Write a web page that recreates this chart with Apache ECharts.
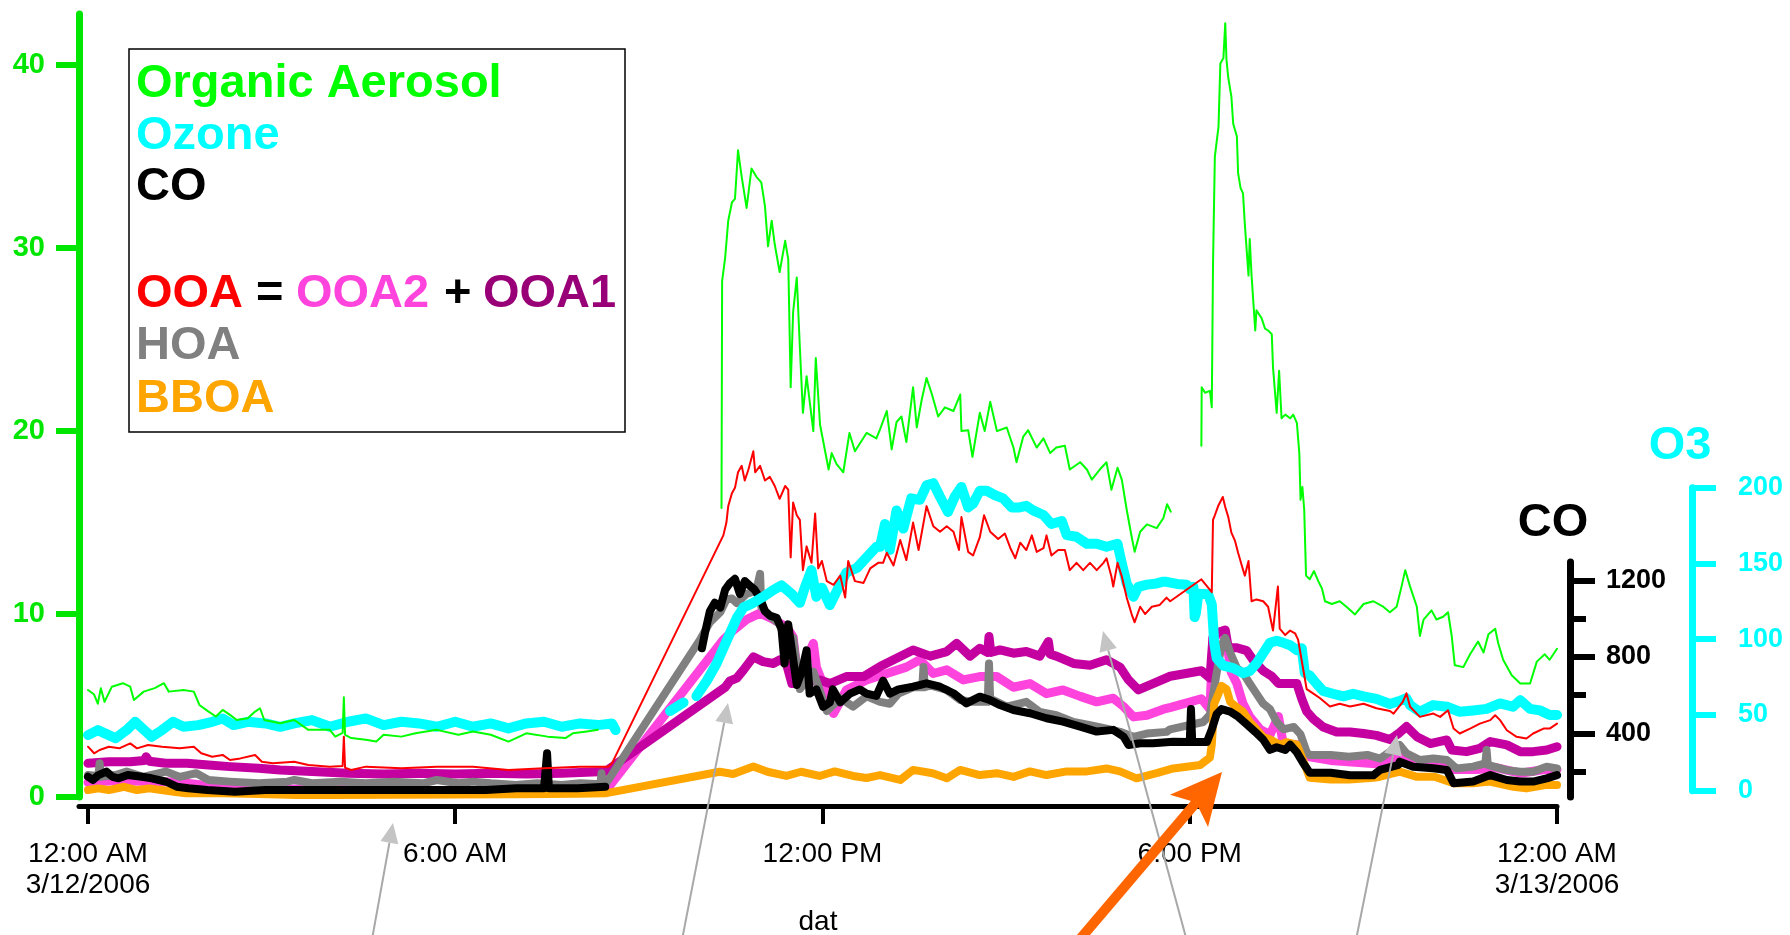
<!DOCTYPE html>
<html>
<head>
<meta charset="utf-8">
<script src="https://cdn.jsdelivr.net/npm/echarts@6/dist/echarts.min.js"></script>
<style>
html,body{margin:0;padding:0;background:#fff;}
#chart{width:1790px;height:935px;}
</style>
</head>
<body>
<div id="chart"></div>
<script>
// ---------------- DATA (hours since 12:00 AM 3/12/2006, value) ----------------
const xTickHours = [0, 6, 12, 18, 24];
const xTickLabels = ['12:00 AM\n3/12/2006', '6:00 AM', '12:00 PM', '6:00 PM', '12:00 AM\n3/13/2006'];
const leftTicks = [0, 10, 20, 30, 40];
const o3Ticks = [0, 50, 100, 150, 200];
const coMajorTicks = [400, 800, 1200];
const coMinorTicks = [200, 600, 1000];

// Organic Aerosol (left axis)
const organicAerosol = [[0.00,5.85],[0.10,5.6],[0.16,5.1],[0.21,5.95],[0.27,5.2],[0.39,6.03],[0.57,6.22],[0.69,6.03],[0.75,5.3],[0.91,5.76],[1.09,5.95],[1.24,6.22],[1.32,5.76],[1.56,5.85],[1.73,5.76],[1.82,5.03],[1.97,4.67],[2.09,4.4],[2.20,4.76],[2.32,4.49],[2.43,4.21],[2.61,4.3],[2.73,4.67],[2.81,4.85],[2.88,4.21],[3.14,4.03],[3.37,4.21],[3.60,3.67],[3.95,3.67],[4.04,3.3],[4.16,3.5],[4.18,5.45],[4.20,3.4],[4.30,3.22],[4.54,3.13],[4.71,3.03],[4.83,3.4],[5.12,3.3],[5.35,3.48],[5.70,3.67],[6.05,3.4],[6.29,3.58],[6.58,3.4],[6.87,3.03],[7.16,3.48],[7.51,3.3],[7.80,3.22],[7.92,3.48],[8.15,3.58],[8.33,3.67],[8.34,null],
[10.35,15.8],[10.36,28.2],[10.41,29.5],[10.46,31.5],[10.52,32.5],[10.57,32.7],[10.62,35.35],[10.68,33.9],[10.76,32.2],[10.84,34.35],[10.92,33.9],[11.00,33.6],[11.06,32.3],[11.11,30.1],[11.17,31.5],[11.22,30.2],[11.30,28.7],[11.39,30.4],[11.44,29.4],[11.48,22.4],[11.52,26.5],[11.58,28.4],[11.63,24.6],[11.68,21.0],[11.74,23.0],[11.85,20.0],[11.89,24.0],[11.96,20.35],[12.10,17.9],[12.15,18.8],[12.23,18.2],[12.34,17.75],[12.44,19.9],[12.53,18.9],[12.72,19.9],[12.88,19.6],[12.94,20.1],[13.05,21.1],[13.13,19.0],[13.21,20.5],[13.29,20.8],[13.37,19.4],[13.48,22.4],[13.54,20.2],[13.62,21.7],[13.70,22.9],[13.78,22.1],[13.89,20.8],[14.00,21.3],[14.14,21.1],[14.25,22.0],[14.27,20.0],[14.38,20.05],[14.45,18.6],[14.57,21.0],[14.65,20.0],[14.74,21.6],[14.85,20.0],[15.01,20.2],[15.12,19.1],[15.17,18.3],[15.28,19.7],[15.36,20.05],[15.50,19.1],[15.61,19.6],[15.72,18.8],[15.82,19.1],[15.96,19.2],[16.04,17.9],[16.21,18.3],[16.32,17.9],[16.40,17.35],[16.53,17.9],[16.64,18.3],[16.72,16.8],[16.82,18.0],[16.89,17.35],[16.97,15.7],[17.05,14.24],[17.10,13.4],[17.19,14.5],[17.30,14.9],[17.46,14.7],[17.57,15.25],[17.63,16.0],[17.69,15.6],[17.70,null],
[18.19,19.2],[18.195,22.4],[18.25,22.1],[18.33,22.2],[18.36,21.3],[18.38,29.1],[18.41,35.0],[18.47,36.65],[18.50,40.1],[18.55,40.4],[18.58,42.3],[18.60,40.3],[18.63,39.3],[18.68,38.3],[18.71,36.8],[18.77,36.1],[18.79,34.1],[18.83,33.3],[18.87,33.0],[18.90,31.3],[18.96,28.5],[18.98,30.5],[19.01,28.5],[19.04,27.0],[19.07,25.5],[19.09,26.6],[19.17,26.2],[19.23,25.6],[19.28,25.5],[19.34,25.3],[19.36,23.5],[19.42,21.0],[19.46,23.3],[19.50,20.7],[19.56,20.9],[19.64,20.7],[19.69,20.9],[19.75,20.45],[19.79,18.8],[19.81,16.25],[19.84,16.95],[19.87,15.7],[19.90,12.1],[19.96,11.9],[20.03,12.35],[20.10,11.8],[20.16,11.4],[20.21,10.7],[20.32,10.55],[20.45,10.7],[20.56,10.4],[20.70,9.98],[20.84,10.55],[21.00,10.7],[21.16,10.4],[21.27,10.1],[21.38,10.4],[21.46,11.5],[21.52,12.4],[21.60,11.5],[21.71,10.4],[21.76,8.8],[21.82,9.7],[21.95,10.2],[22.03,9.7],[22.14,9.85],[22.22,10.1],[22.28,8.8],[22.33,7.2],[22.47,7.1],[22.58,7.8],[22.71,8.5],[22.80,7.9],[22.88,8.9],[22.99,9.2],[23.04,8.4],[23.12,7.5],[23.26,6.65],[23.40,6.2],[23.56,6.2],[23.67,7.4],[23.80,7.8],[23.88,7.5],[24.00,8.1]];

// Ozone (O3 axis, ppb)
const ozone = [[0.00,36.7],[0.16,40.0],[0.34,36.7],[0.45,34.6],[0.63,40.0],[0.77,45.5],[0.92,40.0],[1.04,35.6],[1.21,40.0],[1.39,45.5],[1.56,42.2],[1.80,43.3],[2.03,45.5],[2.20,47.7],[2.38,43.3],[2.61,45.5],[2.90,44.4],[3.14,42.2],[3.37,44.4],[3.66,46.6],[3.95,42.2],[4.25,45.5],[4.54,47.7],[4.83,43.3],[5.12,45.5],[5.41,44.4],[5.70,42.2],[6.00,45.5],[6.29,42.2],[6.58,44.4],[6.87,41.1],[7.16,44.4],[7.45,45.5],[7.74,42.2],[8.04,44.4],[8.33,43.3],[8.56,44.4],[8.62,40.0],[8.63,null],
[9.51,52.6],[9.73,58.2],[9.75,null],[9.94,62.5],[10.11,72.6],[10.27,84.0],[10.41,96.8],[10.49,104],[10.60,114],[10.71,121],[10.87,124],[11.03,128],[11.20,132.6],[11.33,135.5],[11.50,129.8],[11.63,124],[11.71,134],[11.82,145.6],[11.90,128],[11.99,134],[12.12,122.5],[12.26,134],[12.39,144],[12.56,147],[12.72,154],[12.88,161],[12.94,161],[13.02,176],[13.10,159],[13.21,185],[13.32,173],[13.45,193],[13.59,192],[13.70,201.6],[13.81,203],[13.92,194],[14.05,184],[14.16,194],[14.27,200.5],[14.38,187],[14.46,189.5],[14.57,198],[14.68,198],[14.82,195],[14.95,193],[15.09,187],[15.22,187],[15.33,188],[15.44,185],[15.61,182],[15.74,176],[15.91,178],[15.99,168.7],[16.15,167.6],[16.32,163],[16.48,163],[16.64,161],[16.82,163],[16.89,150],[16.97,136.8],[17.08,128],[17.16,134.6],[17.30,136],[17.46,136.8],[17.57,138],[17.62,137.9],[17.79,136.5],[17.95,136],[18.00,133],[18.06,134.6],[18.08,114.6],[18.10,117],[18.14,130],[18.30,129.7],[18.36,123],[18.40,97.6],[18.44,87.5],[18.55,82.5],[18.71,80.9],[18.87,77.6],[18.98,79],[19.09,84],[19.20,90.8],[19.31,97.6],[19.42,99],[19.53,97.6],[19.64,96],[19.75,92.8],[19.83,94],[19.88,77.6],[19.96,76],[20.07,70.7],[20.18,65.8],[20.34,64],[20.51,62.3],[20.67,64],[20.84,62.3],[21.05,60.6],[21.27,57.2],[21.41,59],[21.54,61],[21.60,56.5],[21.76,52.1],[21.98,56.5],[22.20,55.4],[22.41,52.1],[22.63,53],[22.85,54],[23.07,57.6],[23.28,55.4],[23.40,59.8],[23.56,54],[23.72,53],[23.88,50],[24.00,50]];

// CO (CO axis, ppb)
const carbonMonoxide = [[0.00,172],[0.08,155],[0.17,181],[0.30,199],[0.40,172],[0.50,164],[0.65,181],[0.88,172],[1.04,164],[1.28,146],[1.45,120],[1.64,112],[1.95,103],[2.40,94],[2.90,103],[3.50,103],[4.10,103],[4.70,103],[5.30,103],[5.90,103],[6.50,103],[7.00,112],[7.45,112],[7.50,295],[7.53,112],[8.00,112],[8.45,120],[8.46,null],
[10.03,846],[10.08,926],[10.16,1040],[10.24,1085],[10.33,1059],[10.41,1153],[10.49,1188],[10.57,1210],[10.65,1130],[10.73,1198],[10.81,1175],[10.89,1153],[10.98,1108],[11.06,1040],[11.14,1017],[11.25,1006],[11.33,948],[11.38,766],[11.44,971],[11.50,835],[11.58,653],[11.66,722],[11.74,835],[11.79,608],[11.90,630],[12.01,539],[12.12,562],[12.17,630],[12.29,562],[12.45,608],[12.61,630],[12.72,608],[12.88,596],[12.99,676],[13.10,608],[13.24,630],[13.48,644],[13.70,662],[13.92,644],[14.14,610],[14.35,557],[14.57,592],[14.73,575],[14.90,548],[15.12,522],[15.39,505],[15.66,479],[15.93,461],[16.21,435],[16.48,409],[16.75,418],[16.92,382],[17.00,339],[17.19,348],[17.40,348],[17.73,356],[18.00,354],[18.02,527],[18.04,354],[18.28,354],[18.36,420],[18.44,501],[18.52,527],[18.66,514],[18.79,487],[18.93,447],[19.07,407],[19.20,367],[19.31,313],[19.42,327],[19.56,313],[19.64,340],[19.75,300],[19.85,246],[19.96,193],[20.30,193],[20.62,180],[21.00,180],[21.11,208],[21.41,234],[21.43,251],[21.65,225],[21.98,217],[22.20,208],[22.31,138],[22.63,147],[22.91,181],[23.18,155],[23.40,147],[23.61,147],[23.83,164],[24.00,181]];

// OOA (left axis)
const ooa = [[0.00,2.75],[0.10,2.39],[0.19,2.57],[0.34,2.75],[0.51,2.66],[0.69,2.93],[0.80,2.66],[0.98,2.84],[1.21,2.75],[1.50,2.66],[1.73,2.75],[1.85,2.39],[2.03,2.2],[2.20,2.3],[2.32,2.02],[2.49,2.11],[2.73,2.3],[2.84,1.93],[3.02,1.84],[3.37,1.93],[3.60,1.75],[3.95,1.66],[4.16,1.7],[4.18,3.3],[4.20,1.6],[4.30,1.48],[4.54,1.66],[5.12,1.57],[5.70,1.66],[6.29,1.66],[6.87,1.48],[7.45,1.57],[8.04,1.66],[8.50,1.66],[8.56,1.84],
[10.38,14.3],[10.43,15.0],[10.46,15.9],[10.52,16.6],[10.57,16.9],[10.62,17.75],[10.68,18.1],[10.73,17.3],[10.79,17.9],[10.87,18.9],[10.90,17.75],[10.98,18.1],[11.06,17.3],[11.14,17.5],[11.22,17.0],[11.30,16.3],[11.39,17.0],[11.44,16.8],[11.48,13.1],[11.52,16.1],[11.58,15.4],[11.63,15.15],[11.68,12.4],[11.74,13.7],[11.82,12.8],[11.88,15.5],[11.93,12.5],[11.99,12.9],[12.07,11.8],[12.18,11.6],[12.29,12.1],[12.37,10.9],[12.42,12.9],[12.53,11.8],[12.67,11.7],[12.78,12.5],[12.91,12.8],[12.99,12.8],[13.05,13.35],[13.16,12.65],[13.27,14.05],[13.37,12.95],[13.48,15.0],[13.57,13.5],[13.70,15.9],[13.81,14.8],[13.92,14.5],[14.03,14.8],[14.14,14.5],[14.23,13.5],[14.27,15.3],[14.38,13.4],[14.46,13.2],[14.57,14.2],[14.64,15.4],[14.74,14.5],[14.87,14.1],[14.98,14.4],[15.07,13.6],[15.15,13.05],[15.23,13.9],[15.33,13.5],[15.42,14.3],[15.50,13.4],[15.61,13.6],[15.66,14.3],[15.74,13.2],[15.85,13.5],[15.96,13.5],[16.04,12.4],[16.15,12.8],[16.26,12.4],[16.37,12.8],[16.48,12.4],[16.59,12.8],[16.64,13.05],[16.72,12.05],[16.75,11.5],[16.82,12.8],[16.89,12.05],[16.97,10.9],[17.05,10.0],[17.10,9.55],[17.19,10.4],[17.27,10.0],[17.38,10.4],[17.51,10.5],[17.62,10.9],[17.68,10.7],
[18.19,11.9],[18.36,11.2],[18.38,15.15],[18.41,15.4],[18.47,15.95],[18.54,16.4],[18.58,15.85],[18.63,15.3],[18.68,14.45],[18.74,14.0],[18.79,13.35],[18.85,12.65],[18.90,12.1],[18.96,12.9],[19.01,10.7],[19.09,10.8],[19.20,10.7],[19.28,10.4],[19.36,9.1],[19.44,11.5],[19.47,9.2],[19.56,8.85],[19.64,9.1],[19.72,8.95],[19.77,8.6],[19.85,7.05],[19.91,5.9],[20.02,5.65],[20.13,5.4],[20.29,4.95],[20.45,5.1],[20.62,4.95],[20.84,5.1],[21.05,4.85],[21.27,4.7],[21.33,4.56],[21.48,5.2],[21.54,5.67],[21.60,4.93],[21.76,4.38],[21.98,4.56],[22.09,4.38],[22.22,4.74],[22.31,3.74],[22.41,3.47],[22.58,3.74],[22.74,4.01],[22.91,4.2],[22.99,4.47],[23.07,4.2],[23.18,3.65],[23.34,3.29],[23.50,3.2],[23.61,3.47],[23.78,3.74],[23.88,3.74],[24.00,4.01]];

// OOA2 (left axis)
const ooa2 = [[0.00,0.8],[0.5,0.9],[1.0,0.85],[1.5,0.8],[2.0,0.6],[2.5,0.55],[3.0,0.4],[3.5,0.45],[4.0,0.35],[4.18,0.75],[4.3,0.35],[5.0,0.3],[5.5,0.35],[6.0,0.3],[6.5,0.3],[7.0,0.25],[7.5,0.3],[8.0,0.3],[8.45,0.3],[10.38,8.6],[10.54,9.1],[10.76,9.7],[10.98,10.05],[11.2,9.7],[11.41,9.3],[11.52,8.75],[11.6,6.4],[11.85,8.4],[11.9,7.1],[12.07,5.65],[12.18,4.56],[12.39,5.85],[12.72,6.4],[13.05,6.75],[13.37,7.1],[13.59,7.5],[13.81,6.75],[14.03,6.95],[14.3,6.4],[14.57,6.58],[14.85,6.58],[15.12,6.0],[15.39,6.2],[15.66,5.65],[15.93,5.85],[16.21,5.5],[16.48,5.2],[16.75,5.4],[16.92,4.94],[17.08,4.38],[17.3,4.47],[17.57,4.8],[17.69,4.9],[18.19,5.37],[18.33,4.8],[18.38,8.7],[18.5,9.0],[18.6,8.5],[18.68,6.8],[18.77,6.2],[18.87,5.1],[18.98,4.4],[19.15,3.7],[19.31,3.4],[19.45,4.4],[19.53,2.86],[19.75,2.86],[19.85,2.3],[19.96,2.2],[20.3,2.0],[20.7,1.9],[21.1,1.8],[21.43,2.3],[21.6,1.9],[22.0,1.8],[22.3,1.5],[22.7,1.5],[23.0,1.6],[23.4,1.3],[23.8,1.5],[24.0,1.5]];

// OOA1 (left axis)
const ooa1 = [[0.00,1.84],[0.34,1.93],[0.69,1.93],[0.92,2.0],[0.95,2.2],[1.0,1.95],[1.27,1.84],[1.62,1.84],[1.97,1.75],[2.32,1.66],[2.79,1.57],[3.14,1.48],[3.66,1.39],[4.25,1.3],[4.83,1.26],[5.41,1.3],[6.0,1.26],[6.58,1.3],[7.16,1.26],[7.74,1.3],[8.45,1.39],[10.41,6.0],[10.49,6.35],[10.6,6.5],[10.71,6.95],[10.87,7.66],[11.03,7.4],[11.2,7.3],[11.3,7.5],[11.41,7.3],[11.5,6.2],[11.96,6.4],[12.12,6.2],[12.39,6.58],[12.67,6.58],[12.94,7.13],[13.21,7.59],[13.48,8.04],[13.76,7.7],[14.03,7.95],[14.19,8.4],[14.41,7.7],[14.57,8.13],[14.7,7.9],[14.72,8.77],[14.75,7.9],[14.9,8.04],[15.12,7.86],[15.33,7.95],[15.55,7.7],[15.69,8.5],[15.72,7.8],[15.82,7.7],[16.1,7.3],[16.37,7.2],[16.64,7.5],[16.86,7.1],[17.0,6.4],[17.16,5.85],[17.4,6.2],[17.68,6.6],[18.19,6.9],[18.33,6.5],[18.38,8.75],[18.47,9.0],[18.58,9.13],[18.63,8.16],[18.77,8.16],[18.93,8.0],[19.04,7.47],[19.2,6.9],[19.34,6.6],[19.45,6.2],[19.75,6.2],[19.83,5.37],[19.91,4.68],[20.02,4.26],[20.18,3.83],[20.4,3.55],[20.62,3.55],[20.84,3.47],[21.05,3.37],[21.27,3.14],[21.41,3.47],[21.54,3.85],[21.71,3.3],[21.93,2.92],[22.2,3.12],[22.28,2.57],[22.52,2.48],[22.74,2.66],[22.91,3.03],[23.18,2.85],[23.4,2.48],[23.61,2.48],[23.83,2.57],[24.0,2.75]];

// HOA (left axis)
const hoa = [[0.00,1.2],[0.17,1.15],[0.19,1.84],[0.21,1.1],[0.45,1.2],[0.63,1.39],[0.9,1.1],[1.27,1.39],[1.5,1.1],[1.77,1.3],[1.97,0.93],[2.32,0.84],[2.79,0.75],[3.26,0.84],[3.37,0.93],[3.66,0.75],[4.13,0.84],[4.54,0.75],[5.0,0.84],[5.47,0.75],[5.7,0.93],[6.05,0.75],[6.29,0.84],[6.58,0.75],[6.99,0.66],[7.34,0.75],[7.74,0.66],[8.04,0.75],[8.37,0.7],[8.39,1.3],[8.41,0.66],[8.45,0.66],[10.0,8.6],[10.16,9.55],[10.33,10.1],[10.43,10.8],[10.52,10.85],[10.6,10.6],[10.76,11.1],[10.92,11.3],[10.98,12.2],[11.0,10.4],[11.14,9.9],[11.3,9.45],[11.47,7.8],[11.52,8.7],[11.63,5.9],[11.85,6.85],[12.07,4.7],[12.29,5.4],[12.5,4.94],[12.72,5.5],[12.94,5.2],[13.1,5.1],[13.24,5.65],[13.48,6.0],[13.63,6.0],[13.65,7.1],[13.67,6.0],[13.76,6.1],[14.03,5.85],[14.25,5.3],[14.46,5.2],[14.7,5.2],[14.72,7.3],[14.74,5.25],[14.79,5.3],[15.01,4.94],[15.33,5.2],[15.55,4.65],[15.82,4.47],[16.1,4.1],[16.37,3.93],[16.64,3.74],[16.86,3.56],[17.08,3.29],[17.3,3.47],[17.62,3.56],[17.68,3.7],[18.22,4.1],[18.33,4.5],[18.44,6.8],[18.52,8.3],[18.58,8.7],[18.66,7.9],[18.77,7.05],[18.87,6.8],[18.98,6.2],[19.09,5.65],[19.2,5.1],[19.31,4.8],[19.42,4.1],[19.53,3.7],[19.7,3.83],[19.81,3.42],[19.91,2.45],[19.96,2.3],[20.3,2.3],[20.6,2.2],[20.9,2.3],[21.11,2.1],[21.43,2.84],[21.54,2.39],[21.76,2.02],[21.98,2.1],[22.2,2.02],[22.36,1.56],[22.63,1.66],[22.83,1.84],[22.85,2.57],[22.87,1.75],[23.18,1.47],[23.4,1.38],[23.61,1.38],[23.83,1.66],[24.0,1.56]];

// BBOA (left axis)
const bboa = [[0.0,0.38],[0.17,0.47],[0.34,0.38],[0.59,0.56],[0.8,0.38],[1.0,0.47],[1.2,0.38],[1.4,0.29],[1.6,0.2],[2.2,0.2],[2.8,0.16],[3.4,0.11],[4.0,0.11],[5.0,0.12],[6.0,0.13],[7.0,0.15],[8.0,0.18],[8.45,0.2],[10.32,1.38],[10.54,1.26],[10.87,1.67],[11.1,1.38],[11.41,1.15],[11.65,1.38],[11.95,1.15],[12.2,1.4],[12.5,1.15],[12.72,1.04],[12.94,1.2],[13.27,0.93],[13.48,1.48],[13.8,1.3],[14.03,1.02],[14.25,1.48],[14.57,1.2],[14.85,1.3],[15.12,1.1],[15.39,1.4],[15.66,1.2],[15.99,1.4],[16.32,1.4],[16.64,1.56],[16.86,1.4],[17.13,1.02],[17.46,1.3],[17.73,1.56],[18.17,1.75],[18.33,2.16],[18.36,2.86],[18.4,5.1],[18.47,5.65],[18.52,6.07],[18.6,5.9],[18.66,5.2],[18.77,4.9],[18.87,4.67],[18.98,4.1],[19.09,3.7],[19.2,3.28],[19.31,3.15],[19.47,2.86],[19.58,3.0],[19.75,2.86],[19.85,2.02],[19.96,1.05],[20.3,0.95],[20.6,0.95],[21.0,1.05],[21.11,1.11],[21.43,1.39],[21.7,1.11],[22.0,1.11],[22.31,0.75],[22.63,0.75],[22.9,0.84],[23.29,0.56],[23.5,0.47],[23.83,0.66],[24.0,0.66]];

// ---------------- STYLE ----------------
const FONT = 'Liberation Sans, Arial, Helvetica, sans-serif';
const C = {
  oa: '#00ff00', oaAxis: '#00e600', o3: '#00ffff', co: '#000000', ooa: '#ff0000',
  ooa2: '#ff44dd', ooa1: '#c400a0', ooa1Text: '#990077', hoa: '#808080', bboa: '#ffa500'
};
const X_MIN = -0.147, X_MAX = 24;

const chart = echarts.init(document.getElementById('chart'), null, {renderer: 'canvas'});

function line(name, data, color, width, xi, yi) {
  return {
    name, type: 'line', data, xAxisIndex: xi, yAxisIndex: yi,
    showSymbol: false, symbol: 'none', clip: false, connectNulls: false, silent: true,
    lineStyle: {color, width, join: 'round', cap: 'round'}, itemStyle: {color}
  };
}

function arrow(tail, tip, o) {
  const dx = tip[0] - tail[0], dy = tip[1] - tail[1];
  const len = Math.hypot(dx, dy);
  const ux = dx / len, uy = dy / len, nx = -uy, ny = ux;
  const bc = [tip[0] - ux * o.headLen, tip[1] - uy * o.headLen];
  const b1 = [bc[0] + nx * o.headHalf, bc[1] + ny * o.headHalf];
  const b2 = [bc[0] - nx * o.headHalf, bc[1] - ny * o.headHalf];
  const notch = [tip[0] - ux * o.notch, tip[1] - uy * o.notch];
  return [
    {type: 'line', z: 100, shape: {x1: tail[0], y1: tail[1], x2: notch[0], y2: notch[1]},
     style: {stroke: o.color, lineWidth: o.width}},
    {type: 'polygon', z: 100, shape: {points: [tip, b1, notch, b2]},
     style: {fill: o.headColor || o.color}}
  ];
}

const grayArrow = {color: '#a8a8a8', headColor: '#c4c4c4', width: 2, headLen: 20, headHalf: 9, notch: 20};
const orangeArrow = {color: '#ff6600', width: 10, headLen: 51, headHalf: 25, notch: 40};

const legendX = 136;
function legendText(text, x, baseline, color) {
  return {type: 'text', z: 101, x: x, y: baseline - 16,
    style: {text, fill: color, font: 'bold 47px ' + FONT, textAlign: 'left', textVerticalAlign: 'middle', verticalAlign: 'middle'}};
}

const graphics = [
  {type: 'rect', z: 99, shape: {x: 129, y: 49, width: 496, height: 383},
   style: {fill: '#ffffff', stroke: '#000000', lineWidth: 1.5}},
  legendText('Organic Aerosol', legendX, 100, C.oa),
  legendText('Ozone', legendX, 152, C.o3),
  legendText('CO', legendX, 203, '#000'),
  legendText('OOA', legendX, 310, C.ooa),
  legendText('=', 256, 310, '#000'),
  legendText('OOA2', 296, 310, C.ooa2),
  legendText('+', 444, 310, '#000'),
  legendText('OOA1', 483, 310, C.ooa1Text),
  legendText('HOA', legendX, 362, C.hoa),
  legendText('BBOA', legendX, 415, C.bboa),
  ...arrow([371, 945], [393, 823], grayArrow),
  ...arrow([681, 945], [728, 703], grayArrow),
  ...arrow([1188, 945], [1103, 631], grayArrow),
  ...arrow([1355, 945], [1397, 735], grayArrow),
  ...arrow([1075, 945], [1222, 772], orangeArrow)
];

const gridBase = {left: 79, right: 233, containLabel: false, outerBoundsMode: 'none'};
const hiddenX = (gi) => ({gridIndex: gi, type: 'value', min: X_MIN, max: X_MAX, show: false, splitLine: {show: false}});

const option = {
  animation: false,
  backgroundColor: '#ffffff',
  textStyle: {fontFamily: FONT},
  grid: [
    {...gridBase, top: 14, bottom: 138},
    {...gridBase, top: 487.7, bottom: 144.3},
    {...gridBase, top: 562, bottom: 138}
  ],
  xAxis: [
    {gridIndex: 0, type: 'value', min: X_MIN, max: X_MAX, offset: 9, position: 'bottom',
     axisLine: {show: true, onZero: false, lineStyle: {color: '#000', width: 5}},
     axisTick: {show: true, customValues: xTickHours, length: 18, lineStyle: {color: '#000', width: 4}},
     axisLabel: {customValues: xTickHours, color: '#000', fontSize: 28, lineHeight: 31, margin: 33, fontFamily: FONT,
       formatter: (v) => { const i = xTickHours.indexOf(Math.round(v)); return i >= 0 ? xTickLabels[i] : ''; }},
     splitLine: {show: false},
     name: 'dat', nameLocation: 'middle', nameGap: 102,
     nameTextStyle: {color: '#000', fontSize: 28, lineHeight: 28, fontFamily: FONT}},
    hiddenX(1), hiddenX(2)
  ],
  yAxis: [
    {gridIndex: 0, type: 'value', min: 0, max: 42.8, position: 'left',
     axisLine: {show: true, onZero: false, lineStyle: {color: C.oaAxis, width: 7}},
     axisTick: {show: true, customValues: leftTicks, length: 23, lineStyle: {color: C.oaAxis, width: 6}},
     axisLabel: {customValues: leftTicks, color: C.oaAxis, fontWeight: 'bold', fontSize: 29, margin: 34, fontFamily: FONT},
     splitLine: {show: false}},
    {gridIndex: 1, type: 'value', min: 0, max: 200, position: 'right', offset: 135,
     axisLine: {show: true, onZero: false, lineStyle: {color: C.o3, width: 7}},
     axisTick: {show: true, customValues: o3Ticks, length: 24, lineStyle: {color: C.o3, width: 6}},
     axisLabel: {customValues: o3Ticks, color: C.o3, fontWeight: 'bold', fontSize: 27, margin: 46, fontFamily: FONT,
       formatter: (v) => String(Math.round(v))},
     splitLine: {show: false},
     name: 'O3', nameLocation: 'end', nameGap: 18,
     nameTextStyle: {color: C.o3, fontWeight: 'bold', fontSize: 47, padding: [0, 24, 0, 0], fontFamily: FONT}},
    {gridIndex: 2, type: 'value', min: 66, max: 1298, position: 'right', offset: 13,
     axisLine: {show: true, onZero: false, lineStyle: {color: '#000', width: 7}},
     axisTick: {show: true, customValues: coMajorTicks, length: 25, lineStyle: {color: '#000', width: 6}},
     axisLabel: {customValues: coMajorTicks, color: '#000', fontWeight: 'bold', fontSize: 27, margin: 36, fontFamily: FONT,
       formatter: (v) => String(Math.round(v))},
     splitLine: {show: false},
     name: 'CO', nameLocation: 'end', nameGap: 15,
     nameTextStyle: {color: '#000', fontWeight: 'bold', fontSize: 47, padding: [0, 34, 0, 0], fontFamily: FONT}},
    {gridIndex: 2, type: 'value', min: 66, max: 1298, position: 'right', offset: 13,
     axisLine: {show: false, onZero: false},
     axisTick: {show: true, customValues: coMinorTicks, length: 16, lineStyle: {color: '#000', width: 6}},
     axisLabel: {show: false}, splitLine: {show: false}}
  ],
  series: [
    line('OOA2', ooa2, C.ooa2, 9, 0, 0),
    line('OOA1', ooa1, C.ooa1, 9, 0, 0),
    line('HOA', hoa, C.hoa, 8, 0, 0),
    line('BBOA', bboa, C.bboa, 8, 0, 0),
    line('CO', carbonMonoxide, C.co, 8, 2, 2),
    line('Ozone', ozone, C.o3, 10, 1, 1),
    line('OOA', ooa, C.ooa, 2, 0, 0),
    line('Organic Aerosol', organicAerosol, C.oa, 2, 0, 0)
  ],
  graphic: graphics
};

chart.setOption(option);
</script>
</body>
</html>
